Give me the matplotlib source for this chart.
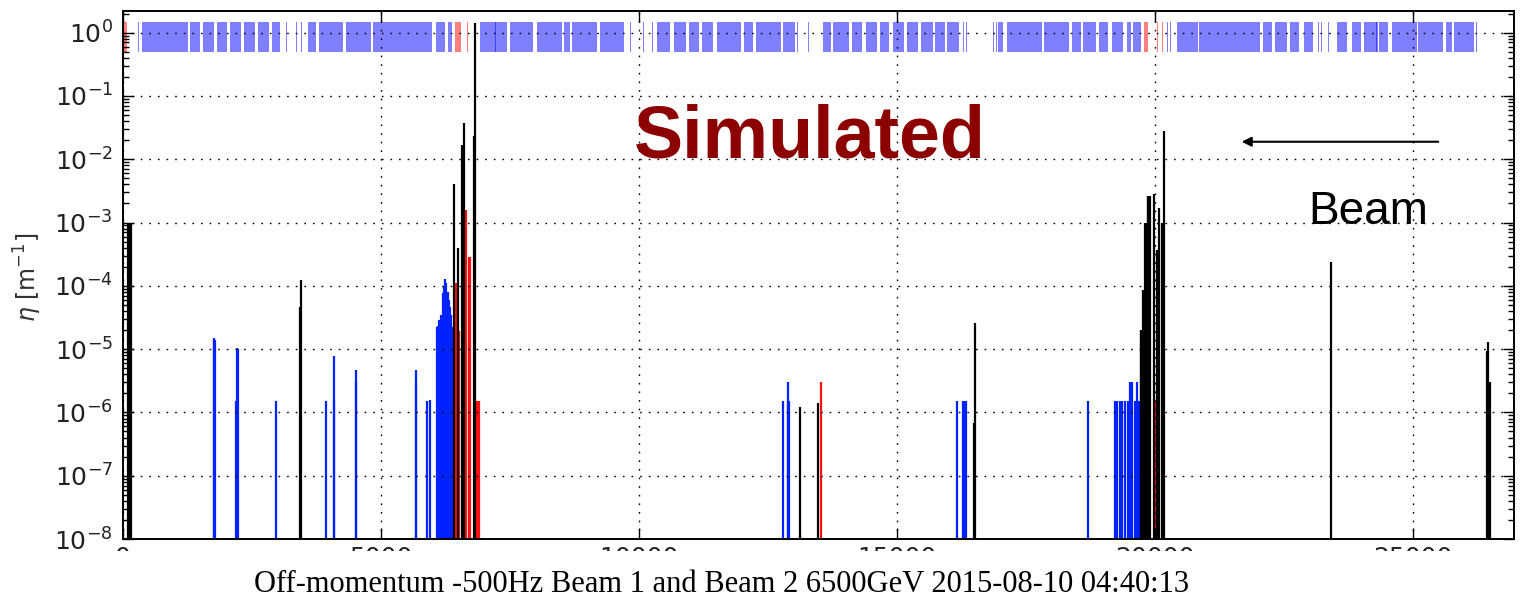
import matplotlib
matplotlib.use('Agg')
import numpy as np
import matplotlib.pyplot as plt
from matplotlib.ticker import LogLocator, NullLocator, FixedLocator
from matplotlib.patches import Rectangle

plt.rcParams['axes.unicode_minus'] = False

# --- element boxes along the ring (s in m), drawn as a strip at eta ~ 1
blue_box_start = [368, 1304, 1548, 1834, 2078, 2356, 2615, 2900, 3589, 3809, 4319, 4843,
                  6069, 6308, 6921, 7502, 8019, 8548, 8709, 9245, 10343, 10679, 10969,
                  11215, 11506, 11730, 12040, 12267, 12796, 13571, 13764, 14133, 14392,
                  14669, 14927, 15199, 15457, 15734, 15961, 16962, 17123, 17846, 18382,
                  18595, 18911, 19157, 19447, 19564, 20416, 20855, 22082, 22326, 22611,
                  22888, 23527, 23806, 24051, 24335, 24581, 25097, 25627, 25787]
blue_box_end = [1259, 1497, 1774, 2028, 2298, 2563, 2841, 3047, 3744, 4273, 4810, 5997,
                6243, 6386, 7438, 7953, 8503, 8664, 9193, 9710, 10601, 10906, 11163,
                11441, 11719, 11976, 12215, 12751, 13022, 13720, 14068, 14326, 14605,
                14850, 15140, 15412, 15702, 15928, 16206, 17058, 17801, 18330, 18557,
                18847, 19092, 19370, 19531, 19719, 20823, 22030, 22262, 22547, 22792,
                23050, 23709, 23986, 24309, 24516, 25065, 25581, 25755, 26175]
blue_thin = [143, 302, 3177, 3241, 3370, 3415, 3467, 7225, 9840, 10085, 10260, 11744,
             13075, 13281, 13333, 16283, 16348, 16865, 16930, 20242, 20300, 20364,
             23159, 23225, 23354, 24290, 26227, 26291, 26583]
red_box_start = [12, 6443, 19783]
red_box_end = [77, 6547, 19854]
red_thin = [6676, 13235, 20041, 20093, 20145]

# --- dispersion spikes
blue_s = [1762, 1776, 1790, 2200, 2215, 2230, 2976, 3944, 4090, 4099, 4512, 4525,
          5676, 5690, 5900, 5951,
          6080, 6100, 6120, 6140, 6160, 6180, 6200, 6220, 6240, 6260, 6280, 6300,
          6320, 6340, 6360, 6380, 6400,
          12796, 12880, 12893, 12910, 16167, 16276, 16300, 16330, 18704,
          19222, 19260, 19319, 19360, 19416, 19474, 19520, 19560, 19600, 19650,
          19680, 19706]
blue_eta = [1.4e-5, 1.5e-5, 1.4e-5, 1.5e-6, 1.05e-5, 1.0e-5, 1.5e-6, 1.5e-6, 1.5e-6,
            7.9e-6, 4.6e-6, 3.0e-6, 4.6e-6, 3.0e-6, 1.5e-6, 1.6e-6,
            2.2e-5, 2.3e-5, 2.9e-5, 2.6e-5, 3.5e-5, 3.2e-5, 7.6e-5, 1.0e-4, 1.26e-4,
            1.1e-4, 6.3e-5, 8.0e-5, 6.0e-5, 4.7e-5, 3.5e-5, 2.2e-5, 1.8e-5,
            1.5e-6, 1.5e-6, 3.0e-6, 1.5e-6, 1.5e-6, 1.5e-6, 1.5e-6, 1.5e-6, 1.5e-6,
            1.5e-6, 1.5e-6, 1.5e-6, 1.5e-6, 1.5e-6, 1.5e-6, 3.0e-6, 3.0e-6, 1.5e-6,
            3.0e-6, 1.5e-6, 1.5e-6]
red_s = [6440, 6455, 6470, 6495, 6510, 6650, 6700, 6720, 6862, 6880, 6900, 13520,
         19860, 20020]
red_eta = [2.9e-5, 1.1e-4, 2.9e-5, 1.9e-5, 1.9e-5, 1.6e-3, 2.9e-4, 2.9e-4, 1.5e-6,
           1.5e-6, 1.5e-6, 3.0e-6, 1.5e-6, 1.5e-6]
black_s = [110, 140, 170, 3430, 3448, 6422, 6487, 6580, 6595, 6610, 6803, 6830,
           13119, 13462, 16500, 16509,
           19718, 19735, 19757, 19775, 19800, 19820, 19853, 19870, 19899, 19982,
           20040, 20079, 20137, 20170, 23399, 26420, 26452, 26485]
black_eta = [1.0e-3, 1.0e-3, 1.0e-3, 4.6e-5, 1.25e-4, 4.0e-3, 4.0e-4, 1.7e-2, 2.0e-3,
             3.7e-2, 2.3e-2, 1.42, 1.23e-6, 1.4e-6, 6.8e-7, 2.6e-5,
             2.0e-5, 2.0e-5, 8.6e-5, 8.6e-5, 9.8e-4, 9.8e-4, 2.6e-3, 2.6e-3, 2.6e-3,
             2.8e-3, 3.7e-4, 1.7e-3, 9.8e-4, 2.8e-2, 2.35e-4, 9.5e-6, 1.3e-5, 3.0e-6]

xticks = [0, 5000, 10000, 15000, 20000, 25000]
xlabel = "Off-momentum -500Hz Beam 1 and Beam 2 6500GeV 2015-08-10 04:40:13"

fig = plt.figure(figsize=(15.2, 6.03), dpi=100)
ax = fig.add_axes([0.0807, 0.1061, 0.9155, 0.8757])
ax.set_yscale('log')
ax.set_xlim(0, 26955)
ax.set_ylim(1e-8, 2.2)
ax.set_axisbelow(False)

# element strip
thin_w = 14
ax.bar(blue_box_start, 1.0, width=np.subtract(blue_box_end, blue_box_start), bottom=0.5,
       align='edge', color=(0, 0, 1, 0.5), linewidth=0)
ax.bar(blue_thin, 1.0, width=thin_w, bottom=0.5, align='center',
       color=(0, 0, 1, 0.5), linewidth=0)
ax.bar(red_box_start, 1.0, width=np.subtract(red_box_end, red_box_start), bottom=0.5,
       align='edge', color=(1, 0, 0, 0.5), linewidth=0)
ax.bar(red_thin, 1.0, width=thin_w, bottom=0.5, align='center',
       color=(1, 0, 0, 0.5), linewidth=0)

# spikes
ax.vlines(blue_s, 1e-8, blue_eta, color='#0022ff', lw=1.6)
ax.vlines(red_s, 1e-8, red_eta, color='#ff1010', lw=1.6)
ax.vlines(black_s, 1e-8, black_eta, color='black', lw=1.6)

# axes styling (old-style matplotlib look)
ax.grid(True, which='major', color='black', linestyle=(0, (1.2, 5)), linewidth=1)
ax.xaxis.set_major_locator(FixedLocator(xticks))
ax.xaxis.set_minor_locator(NullLocator())
ax.yaxis.set_major_locator(LogLocator(base=10, numticks=20))
ax.yaxis.set_minor_locator(LogLocator(base=10, subs=np.arange(2, 10), numticks=20))
ax.tick_params(which='both', direction='in', top=True, right=True, colors='black')
ax.tick_params(which='major', length=8, width=1, labelsize=18)
ax.tick_params(axis='y', which='major', pad=7, labelcolor='#222222')
ax.tick_params(axis='x', which='major', pad=5, labelcolor='#222222')
ax.tick_params(which='minor', length=4, width=1)
for sp in ax.spines.values():
    sp.set_linewidth(1.4)

# annotations
ax.annotate('', xy=(21675, 0.0189), xytext=(25483, 0.0189),
            arrowprops=dict(arrowstyle='-|>', color='black', lw=1.5,
                            mutation_scale=14, shrinkA=0, shrinkB=0))
fig.text(0.533, 0.771, 'Simulated', fontsize=53, fontweight='bold', color='#8c0000',
         family='Liberation Sans', ha='center', va='center')
fig.text(0.9, 0.648, 'Beam', fontsize=33, family='Liberation Sans',
         ha='center', va='center')

# the x tick labels are half hidden under the caption strip
fig.add_artist(Rectangle((0, 0), 1, (603 - 551) / 603, transform=fig.transFigure,
                         facecolor='white', edgecolor='none', zorder=2))
fig.text(0.4747, 1 - 585 / 603, xlabel, family='Liberation Serif', fontsize=22,
         ha='center', va='center', zorder=3)
fig.text(0.0185, 1 - 277 / 603, r'$\eta$ [m$^{-1}$]', fontsize=17, rotation=90,
         color='#333333', ha='center', va='center')

fig.savefig('out.png', dpi=100)
